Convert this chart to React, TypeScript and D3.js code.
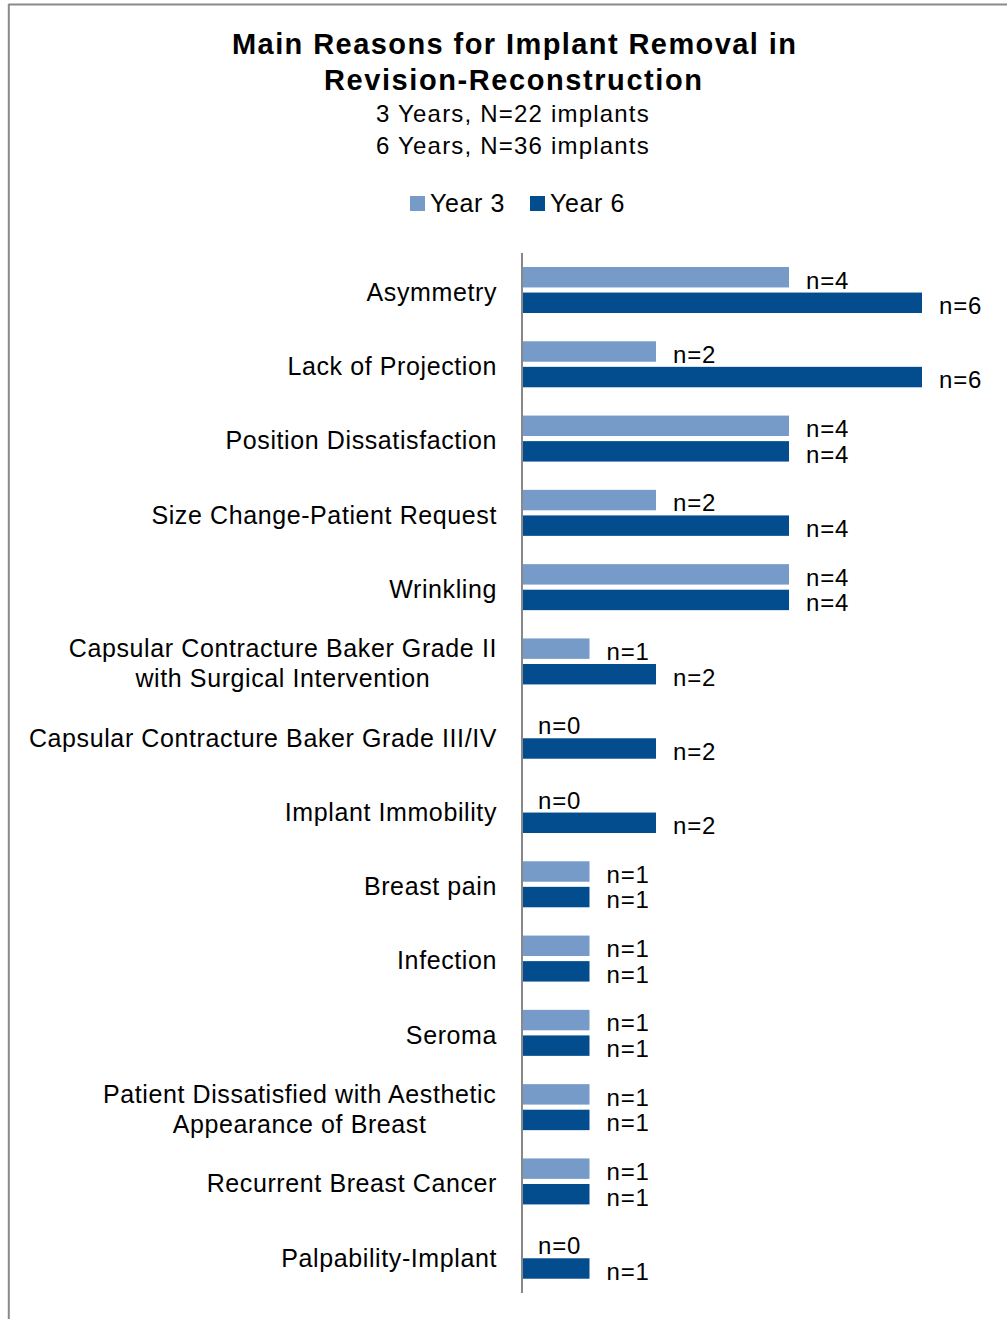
import React from 'react';
import * as d3 from 'd3';

const categories = [
  ['Asymmetry'],
  ['Lack of Projection'],
  ['Position Dissatisfaction'],
  ['Size Change-Patient  Request'],
  ['Wrinkling'],
  ['Capsular Contracture Baker Grade II', 'with Surgical Intervention'],
  ['Capsular Contracture Baker Grade III/IV'],
  ['Implant Immobility'],
  ['Breast pain'],
  ['Infection'],
  ['Seroma'],
  ['Patient Dissatisfied with Aesthetic', 'Appearance of Breast'],
  ['Recurrent  Breast Cancer'],
  ['Palpability-Implant'],
];
const year3 = [4, 2, 4, 2, 4, 1, 0, 0, 1, 1, 1, 1, 1, 0];
const year6 = [6, 6, 4, 4, 4, 2, 2, 2, 1, 1, 1, 1, 1, 1];
const seriesNames = ['Year 3', 'Year 6'];
const colors = ['#769BC8', '#034C8E'];
const titleLines = ['Main Reasons for Implant Removal in', 'Revision-Reconstruction'];
const subtitleLines = ['3 Years, N=22 implants', '6 Years, N=36 implants'];

const font = '"Liberation Sans", Arial, sans-serif';
const labelSize = 25;
const labelSpacing = 0.6;

// rough width of a label line, used to centre the lines of a two-line label
let ctx: CanvasRenderingContext2D | null = null;
function textWidth(s: string) {
  if (!ctx) ctx = document.createElement('canvas').getContext('2d');
  if (!ctx) return s.length * 12;
  ctx.font = `${labelSize}px ${font}`;
  return ctx.measureText(s).width + s.length * labelSpacing;
}

export default function App() {
  const width = 1007, height = 1319;
  const axisX = 522;
  const top = 253, bottom = 1293;
  const labelRight = 497;

  const x = d3.scaleLinear().domain([0, 6]).range([axisX + 1, 922]);
  const y = d3.scaleBand<number>().domain(d3.range(categories.length)).range([top, bottom]);
  const sub = d3.scaleBand<number>().domain([0, 1]).range([14, 60]).paddingInner(0.2);

  const series = [year3, year6];

  return (
    <svg width={width} height={height} style={{ position: 'absolute', left: 0, top: 0 }}
      fontFamily={font}>
      <rect x={0} y={0} width={width} height={height} fill="#fff" />
      <line x1={8.5} x2={width} y1={4.5} y2={4.5} stroke="#8a8a8a" strokeWidth={2} />
      <line x1={8.8} x2={8.8} y1={4} y2={height} stroke="#8a8a8a" strokeWidth={2} />

      <text x={514} y={54} textAnchor="middle" fontSize={29} fontWeight="bold"
        textLength={564} lengthAdjust="spacing">{titleLines[0]}</text>
      <text x={513} y={90} textAnchor="middle" fontSize={29} fontWeight="bold"
        textLength={378} lengthAdjust="spacing">{titleLines[1]}</text>
      {subtitleLines.map((t, i) => (
        <text key={t} x={513} y={122 + i * 32} textAnchor="middle" fontSize={24}
          letterSpacing={1.2}>{t}</text>
      ))}

      {seriesNames.map((s, i) => (
        <g key={s} transform={`translate(${410 + i * 120},196)`}>
          <rect x={0} y={0} width={15} height={15} fill={colors[i]} />
          <text x={20} y={16} fontSize={25} letterSpacing={0.6}>{s}</text>
        </g>
      ))}

      {categories.map((lines, i) => {
        const cy = (y(i) as number) + y.bandwidth() / 2 + 2;
        if (lines.length === 1) {
          return (
            <text key={i} x={labelRight} y={cy} dy="0.35em" textAnchor="end" fontSize={labelSize}
              letterSpacing={labelSpacing}>{lines[0]}</text>
          );
        }
        const w = d3.max(lines, textWidth) as number;
        const cx = labelRight - w / 2;
        return (
          <g key={i}>
            {lines.map((l, j) => (
              <text key={j} x={cx} y={cy - 15 + j * 30} dy="0.35em" textAnchor="middle"
                fontSize={labelSize} letterSpacing={labelSpacing}>{l}</text>
            ))}
          </g>
        );
      })}

      {series.map((vals, si) => (
        <g key={si}>
          {vals.map((v, i) => {
            const by = (y(i) as number) + (sub(si) as number);
            const bh = sub.bandwidth();
            return (
              <g key={i}>
                {v > 0 && (
                  <rect x={x(0)} y={by} width={x(v) - x(0)} height={bh} fill={colors[si]} />
                )}
                <text x={x(v) + (v > 0 ? 17 : 15)} y={by + bh / 2 + (si === 0 ? 3 : 3)}
                  dy="0.35em" fontSize={24} letterSpacing={0.8}>{`n=${v}`}</text>
              </g>
            );
          })}
        </g>
      ))}

      <line x1={axisX} x2={axisX} y1={top} y2={bottom} stroke="#888" strokeWidth={2} />
    </svg>
  );
}
